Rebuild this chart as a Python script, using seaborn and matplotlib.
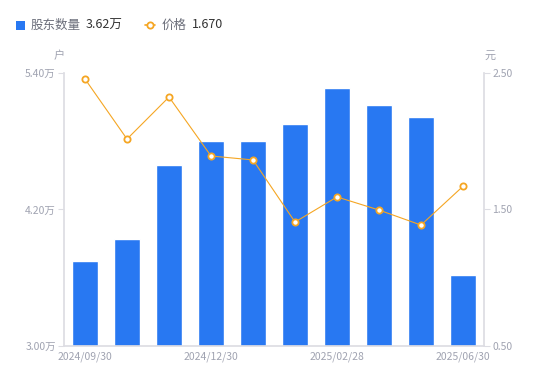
import pandas as pd
import seaborn as sns
import matplotlib.pyplot as plt
from matplotlib.lines import Line2D
from matplotlib.patches import Rectangle

# data
dates = ['2024/09/30', '2024/10/31', '2024/11/29', '2024/12/30', '2025/01/10',
         '2025/01/20', '2025/02/28', '2025/03/31', '2025/04/30', '2025/06/30']
holders = [3.75, 3.94, 4.59, 4.80, 4.80, 4.95, 5.27, 5.12, 5.01, 3.62]  # 万户
price = [2.456, 2.016, 2.324, 1.892, 1.863, 1.408, 1.592, 1.496, 1.386, 1.670]
shown_dates = ['2024/09/30', '2024/12/30', '2025/02/28', '2025/06/30']

df = pd.DataFrame({'date': dates, 'holders': holders, 'price': price})

sns.set_theme(style='white')
plt.rcParams['font.family'] = ['Noto Sans CJK SC', 'DejaVu Sans']

blue = '#2878F2'
orange = '#F5A623'
grey = '#A0A3B1'
axis_col = '#DDDDE3'

fig = plt.figure(figsize=(5.5, 3.81), dpi=100)
ax = fig.add_axes([0.1164, 0.0919, 0.7636, 0.7165])

sns.barplot(data=df, x='date', y='holders', color=blue, width=0.6,
            saturation=1, ax=ax)
ax.set_ylim(3.0, 5.4)
ax.set_xlim(-0.5, 9.5)
ax.set_yticks([3.0, 4.2, 5.4])
ax.set_yticklabels(['3.00万', '4.20万', '5.40万'])
ax.set_xticks([dates.index(d) for d in shown_dates])
ax.set_xticklabels(shown_dates)
ax.set_xlabel('')
ax.set_ylabel('')

ax2 = ax.twinx()
ax2.plot(range(len(dates)), df['price'], color=orange, lw=0.8, marker='o',
         ms=4.5, mfc='white', mec=orange, mew=1.3, zorder=5)
ax2.set_ylim(0.5, 2.5)
ax2.set_yticks([0.5, 1.5, 2.5])
ax2.set_yticklabels(['0.50', '1.50', '2.50'])
ax2.set_xlim(-0.5, 9.5)

for a in (ax, ax2):
    for s in a.spines.values():
        s.set_visible(False)
    a.tick_params(colors=grey, labelsize=7.5, length=4, width=0.8, color=axis_col, pad=2)
    a.grid(False)
ax.spines['left'].set_visible(True)
ax.spines['left'].set_color(axis_col)
ax.spines['bottom'].set_visible(True)
ax.spines['bottom'].set_color(axis_col)
ax2.spines['right'].set_visible(True)
ax2.spines['right'].set_color(axis_col)
ax.tick_params(axis='x', length=0, pad=4)

# unit labels
fig.text(59 / 550, 1 - 56 / 381, '户', color=grey, fontsize=8, ha='center', va='center')
fig.text(490 / 550, 1 - 56 / 381, '元', color=grey, fontsize=8, ha='center', va='center')

# legend row
fig.add_artist(Rectangle((16 / 550, 1 - 29.5 / 381), 9 / 550, 9 / 381,
                         transform=fig.transFigure, facecolor=blue, edgecolor='none'))
fig.text(31 / 550, 1 - 25 / 381, '股东数量', color='#6B6E7A', fontsize=9, va='center')
fig.text(86 / 550, 1 - 25 / 381, '3.62万', color='#333333', fontsize=9, va='center')
fig.add_artist(Line2D([145 / 550, 155 / 550], [1 - 25 / 381] * 2, transform=fig.transFigure,
                      color=orange, lw=1.2))
fig.add_artist(Line2D([150 / 550], [1 - 25 / 381], transform=fig.transFigure, marker='o',
                      ms=4.5, mfc='white', mec=orange, mew=1.3))
fig.text(162 / 550, 1 - 25 / 381, '价格', color='#6B6E7A', fontsize=9, va='center')
fig.text(192 / 550, 1 - 25 / 381, '1.670', color='#333333', fontsize=9, va='center')

fig.savefig('out.png', dpi=100)
